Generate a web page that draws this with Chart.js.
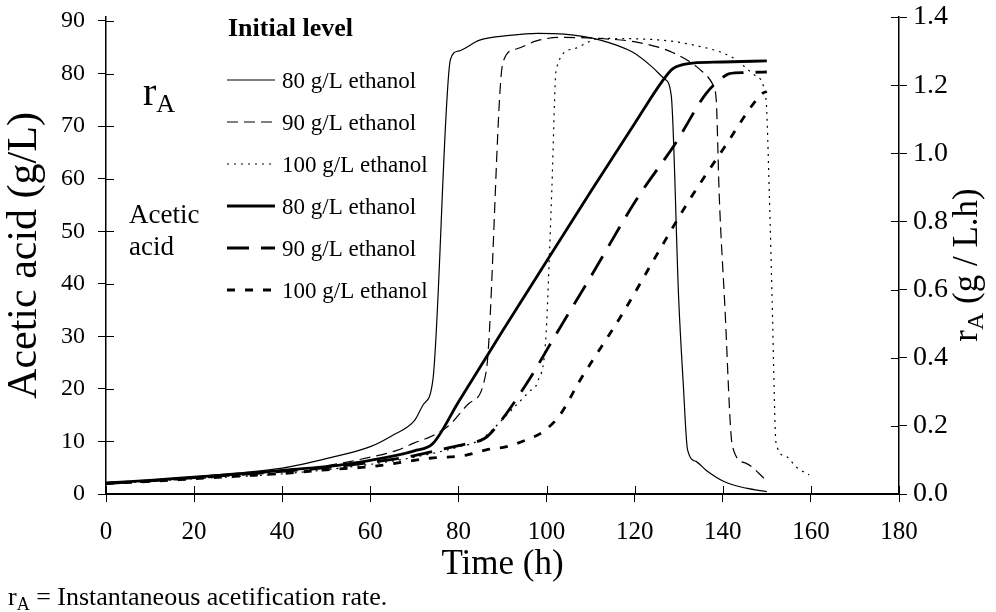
<!DOCTYPE html>
<html><head><meta charset="utf-8">
<script src="https://cdn.jsdelivr.net/npm/chart.js@4"></script>
<style>html,body{margin:0;padding:0;background:#fff;}canvas{display:block;}</style>
</head><body>
<canvas id="c" width="996" height="612"></canvas>
<script>
// ---- data (time in h) ----
const tRa80 = [0, 10, 20, 30, 40, 50, 60, 65, 70, 72, 74.2, 78.2, 80, 84.8, 91.6, 98, 104, 112, 119.5, 124, 126.8, 128.3, 130, 131, 132, 134, 136.2, 140.4, 145.3, 150];
const ra80  = [0.032, 0.040, 0.050, 0.062, 0.076, 0.104, 0.139, 0.172, 0.215, 0.262, 0.335, 1.276, 1.300, 1.332, 1.346, 1.352, 1.350, 1.333, 1.297, 1.253, 1.218, 1.170, 0.570, 0.330, 0.130, 0.095, 0.070, 0.036, 0.017, 0.007];

const tRa90 = [0, 20, 40, 50, 60, 66, 70, 74, 78, 82.5, 86.3, 90.1, 93.1, 97.7, 103, 112, 121, 128.6, 134.7, 137.7, 138.5, 139.2, 140.4, 142.2, 145.3, 149.8];
const ra90  = [0.031, 0.049, 0.067, 0.083, 0.108, 0.128, 0.150, 0.170, 0.203, 0.267, 0.360, 1.267, 1.306, 1.330, 1.340, 1.337, 1.325, 1.296, 1.247, 1.203, 1.159, 0.874, 0.570, 0.139, 0.090, 0.041];

const tRa100 = [0, 20, 40, 60, 70, 80, 85, 87, 92.3, 96, 98, 99.8, 100.7, 101.2, 102.2, 106, 112, 122.6, 134, 142.2, 147.5, 149.8, 150.6, 151.2, 152.1, 154.4, 156.6, 159.6];
const ra100  = [0.030, 0.045, 0.059, 0.087, 0.108, 0.138, 0.159, 0.180, 0.250, 0.300, 0.330, 0.450, 0.718, 0.894, 1.247, 1.306, 1.337, 1.335, 1.316, 1.281, 1.227, 1.159, 0.865, 0.570, 0.149, 0.110, 0.080, 0.056];

const tAa80 = [0, 10, 20, 30, 40, 50, 60, 70, 74.2, 80, 90, 100, 110, 120, 126.4, 128.6, 130.9, 133.2, 140, 150];
const aa80  = [2.1, 2.6, 3.2, 3.8, 4.5, 5.2, 6.4, 8.2, 9.6, 17.5, 31.0, 44.3, 57.5, 70.5, 78.7, 80.9, 81.7, 82.0, 82.2, 82.4];

const tAa90 = [0, 10, 20, 30, 40, 50, 60, 70, 75.7, 82, 86, 88.6, 96, 101.8, 110, 120.3, 129.4, 136.2, 139.2, 141.5, 145, 150];
const aa90  = [2.0, 2.5, 3.1, 3.7, 4.3, 5.0, 6.0, 7.3, 8.4, 9.6, 10.6, 12.8, 21.7, 29.9, 41.3, 55.9, 66.9, 76.2, 78.7, 80.0, 80.2, 80.3];

const tAa100 = [0, 10, 20, 30, 40, 50, 60, 73.5, 81.8, 86.3, 90.9, 95.4, 99.1, 103, 107.5, 117.3, 125, 132.4, 140, 149, 150];
const aa100  = [2.0, 2.4, 2.9, 3.4, 3.9, 4.6, 5.2, 6.8, 7.4, 8.4, 9.0, 10.3, 11.8, 15.0, 21.5, 34.4, 45.5, 55.9, 65.5, 76.2, 76.6];

const xTicks = [0, 20, 40, 60, 80, 100, 120, 140, 160, 180];
const leftTicks = [0, 10, 20, 30, 40, 50, 60, 70, 80, 90];
const rightTicks = [0, 0.2, 0.4, 0.6, 0.8, 1.0, 1.2, 1.4];
const seriesLabels = ['80 g/L ethanol', '90 g/L ethanol', '100 g/L ethanol', '80 g/L ethanol', '90 g/L ethanol', '100 g/L ethanol'];
const legendTitle = 'Initial level';
const xTitle = 'Time (h)';
const leftTitle = 'Acetic acid (g/L)';

// ---- styles ----
const SERIF = '"Liberation Serif", "Times New Roman", serif';
const styles = [
  {w: 1.2, dash: []},
  {w: 1.2, dash: [11, 6]},
  {w: 1.2, dash: [2, 5]},
  {w: 2.8, dash: []},
  {w: 2.8, dash: [22, 12]},
  {w: 2.8, dash: [8, 10]}
];
const pts = (ts, vs) => ts.map((t, i) => ({x: t, y: vs[i]}));
const series = [
  {d: pts(tRa80, ra80), axis: 'y2'},
  {d: pts(tRa90, ra90), axis: 'y2'},
  {d: pts(tRa100, ra100), axis: 'y2'},
  {d: pts(tAa80, aa80), axis: 'y'},
  {d: pts(tAa90, aa90), axis: 'y'},
  {d: pts(tAa100, aa100), axis: 'y'}
];
const datasets = series.map((s, i) => ({
  label: seriesLabels[i] + (s.axis === 'y2' ? ' (rA)' : ' (acetic acid)'),
  data: s.d,
  yAxisID: s.axis,
  borderColor: '#000',
  borderWidth: styles[i].w,
  borderDash: styles[i].dash,
  pointRadius: 0,
  fill: false,
  cubicInterpolationMode: 'monotone'
}));

function drawRich(ctx, parts, x, y) {
  let cx = x;
  parts.forEach(p => {
    ctx.font = (p.bold ? 'bold ' : '') + p.size + 'px ' + SERIF;
    ctx.fillText(p.text, cx, y + (p.dy || 0));
    cx += ctx.measureText(p.text).width;
  });
  return cx - x;
}
function richWidth(ctx, parts) {
  let w = 0;
  parts.forEach(p => { ctx.font = (p.bold ? 'bold ' : '') + p.size + 'px ' + SERIF; w += ctx.measureText(p.text).width; });
  return w;
}

const decor = {
  id: 'decor',
  afterDraw(chart) {
    const ctx = chart.ctx;
    const {x, y, y2} = chart.scales;
    ctx.save();
    // inner tick halves
    ctx.strokeStyle = '#000';
    ctx.lineWidth = 1;
    ctx.setLineDash([]);
    ctx.beginPath();
    y.ticks.forEach(t => { const p = Math.round(y.getPixelForValue(t.value)) + 0.5; ctx.moveTo(y.right, p); ctx.lineTo(y.right + 8, p); });
    y2.ticks.forEach(t => { const p = Math.round(y2.getPixelForValue(t.value)) + 0.5; ctx.moveTo(y2.left - 8, p); ctx.lineTo(y2.left, p); });
    x.ticks.forEach(t => { const p = Math.round(x.getPixelForValue(t.value)) + 0.5; ctx.moveTo(p, x.top - 8); ctx.lineTo(p, x.top); });
    ctx.stroke();

    ctx.fillStyle = '#000';
    ctx.textBaseline = 'alphabetic';
    ctx.textAlign = 'left';
    // legend
    ctx.font = 'bold 26px ' + SERIF;
    ctx.fillText(legendTitle, 228, 36);
    seriesLabels.forEach((lab, i) => {
      const yy = 80 + i * 42;
      ctx.beginPath();
      ctx.lineWidth = styles[i].w;
      ctx.setLineDash(styles[i].dash);
      ctx.moveTo(227, yy);
      ctx.lineTo(275, yy);
      ctx.stroke();
      ctx.setLineDash([]);
      ctx.font = '23px ' + SERIF;
      ctx.fillText(lab, 282, yy + 8);
    });
    // in-plot labels
    drawRich(ctx, [{text: 'r', size: 40}, {text: 'A', size: 26, dy: 7}], 143, 105);
    ctx.font = '27px ' + SERIF;
    ctx.fillText('Acetic', 129, 223);
    ctx.fillText('acid', 129, 255);
    // footnote
    drawRich(ctx, [{text: 'r', size: 26}, {text: 'A', size: 18, dy: 5}, {text: ' = Instantaneous acetification rate.', size: 26}], 8, 605);
    // right axis title (rotated)
    const rparts = [{text: 'r', size: 35}, {text: 'A', size: 24, dy: 6}, {text: ' (g / L.h)', size: 35}];
    ctx.translate(966, 265);
    ctx.rotate(-Math.PI / 2);
    const w = richWidth(ctx, rparts);
    drawRich(ctx, rparts, -w / 2, 11);
    ctx.restore();
  }
};

const noPad = s => { s.paddingTop = 0; s.paddingBottom = 0; s.paddingLeft = 0; s.paddingRight = 0; };

new Chart(document.getElementById('c'), {
  type: 'line',
  data: {datasets},
  plugins: [decor],
  options: {
    responsive: false,
    animation: false,
    devicePixelRatio: 1,
    layout: {padding: {top: 17, left: 0, right: 0, bottom: 0}},
    plugins: {legend: {display: false}, tooltip: {enabled: false}},
    scales: {
      x: {
        type: 'linear', min: 0, max: 180,
        afterBuildTicks: s => { s.ticks = xTicks.map(v => ({value: v})); },
        afterFit: s => { s.height = 118; noPad(s); },
        grid: {drawOnChartArea: false, drawTicks: true, tickLength: 8, color: '#000', lineWidth: 1},
        border: {display: true, color: '#000', width: 2},
        ticks: {color: '#000', font: {family: SERIF, size: 25}, padding: 15, maxRotation: 0},
        title: {display: true, text: xTitle, color: '#000', font: {family: SERIF, size: 35}, padding: {top: 0, bottom: 26}}
      },
      y: {
        type: 'linear', position: 'left', min: 0, max: 90 * 477 / 473,
        afterBuildTicks: s => { s.ticks = leftTicks.map(v => ({value: v})); },
        afterFit: s => { s.width = 106; noPad(s); },
        grid: {drawOnChartArea: false, drawTicks: true, tickLength: 8, color: '#000', lineWidth: 1},
        border: {display: true, color: '#000', width: 1.5},
        ticks: {color: '#000', font: {family: SERIF, size: 24}, padding: 13},
        title: {display: true, text: leftTitle, color: '#000', font: {family: SERIF, size: 42}, padding: {top: 0, bottom: 0}}
      },
      y2: {
        type: 'linear', position: 'right', min: 0, max: 1.4,
        afterBuildTicks: s => { s.ticks = rightTicks.map(v => ({value: v})); },
        afterFit: s => { s.width = 97; noPad(s); },
        grid: {drawOnChartArea: false, drawTicks: true, tickLength: 8, color: '#000', lineWidth: 1},
        border: {display: true, color: '#000', width: 1.5},
        ticks: {color: '#000', font: {family: SERIF, size: 28}, padding: 6, callback: v => Number(v).toFixed(1)}
      }
    }
  }
});
</script>
</body></html>
